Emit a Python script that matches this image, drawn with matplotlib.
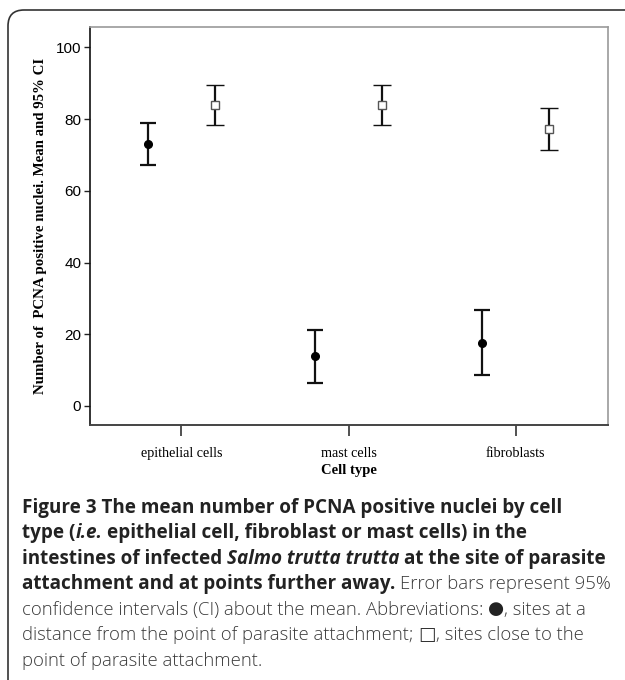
import matplotlib
matplotlib.use("Agg")
import matplotlib.pyplot as plt
from matplotlib.patches import FancyBboxPatch
from matplotlib.transforms import IdentityTransform
import numpy as np

# ---- data ----
categories = ["epithelial cells", "mast cells", "fibroblasts"]
far_mean = [73.2, 13.9, 17.5]
far_low = [67.3, 6.5, 8.6]
far_high = [78.9, 21.3, 26.7]
close_mean = [84.0, 84.0, 77.3]
close_low = [78.5, 78.5, 71.5]
close_high = [89.5, 89.5, 83.1]
yticks = [0, 20, 40, 60, 80, 100]

W, H = 625, 680
fig = plt.figure(figsize=(W / 100, H / 100), dpi=100)
fig.patch.set_facecolor("white")

# outer rounded frame (only top & left visible)
box = FancyBboxPatch((8 / 100, -1.0), 10.0, (H - 10) / 100 + 1.0,
                     boxstyle="round,pad=0,rounding_size=0.16",
                     transform=fig.dpi_scale_trans, fill=False,
                     edgecolor="#333333", linewidth=1.2, clip_on=False)
fig.patches.append(box)

ax = fig.add_axes([89.5 / W, 1 - 425 / H, (607.5 - 89.5) / W, (425 - 27) / H])
x = np.arange(len(categories))
off = 0.2

fm = np.array(far_mean); cm = np.array(close_mean)
ax.errorbar(x - off, fm, yerr=[fm - np.array(far_low), np.array(far_high) - fm],
            fmt="o", color="black", ms=5.5, mfc="black", mec="black",
            ecolor="#111111", elinewidth=1.6, capsize=5.5, capthick=1.6)
ax.errorbar(x + off, cm, yerr=[cm - np.array(close_low), np.array(close_high) - cm],
            fmt="s", color="#333333", ms=6, mfc="white", mec="#555555", mew=1.0,
            ecolor="#111111", elinewidth=1.6, capsize=6.5, capthick=1.6)

ax.set_xlim(-0.55, 2.55)
ax.set_ylim(-5.3, 105.7)
ax.set_yticks(yticks)
ax.set_yticklabels([str(v) for v in yticks],
                   family=["Liberation Sans Narrow", "Liberation Sans"], fontsize=11)
ax.set_xticks(x)
ax.set_xticklabels(categories, family="Liberation Serif", fontsize=10.2)
ax.tick_params(axis="y", direction="out", length=4, width=1, color="#222222", pad=2)
ax.tick_params(axis="x", direction="out", length=8, width=1.2, color="#333333", pad=8)
for s in ["top", "right"]:
    ax.spines[s].set_color("#9a9a9a")
    ax.spines[s].set_linewidth(1.2)
ax.spines["left"].set_color("#111111")
ax.spines["bottom"].set_color("#444444")
ax.spines["left"].set_linewidth(1.2)
ax.spines["bottom"].set_linewidth(1.4)

ax.set_ylabel("Number of  PCNA positive nuclei. Mean and 95% CI",
              family="Liberation Serif", fontweight="bold", fontsize=10.7, labelpad=6)
ax.set_xlabel("Cell type", family="Liberation Serif", fontweight="bold",
              fontsize=10.5, labelpad=3)

# ---- caption ----
fam = ["Open Sans", "DejaVu Sans"]
symfam = ["DejaVu Sans"]
B, R, S = "bold", "light", "sym"
FSB, FSR = 13.6, 13.3
DK, LT = "#222222", "#3a3a3a"
lines = [
    [("Figure 3 The mean number of PCNA positive nuclei by cell", B, "normal", DK)],
    [("type (", B, "normal", DK), ("i.e.", B, "italic", DK),
     (" epithelial cell, fibroblast or mast cells) in the", B, "normal", DK)],
    [("intestines of infected ", B, "normal", DK),
     ("Salmo trutta trutta", B, "italic", DK),
     (" at the site of parasite", B, "normal", DK)],
    [("attachment and at points further away.", B, "normal", DK),
     (" Error bars represent 95%", R, "normal", LT)],
    [("confidence intervals (CI) about the mean. Abbreviations: ", R, "normal", LT),
     ("\u25cf", S, "normal", "#222222"),
     (", sites at a", R, "normal", LT)],
    [("distance from the point of parasite attachment; ", R, "normal", LT),
     ("\u25a1", S, "normal", "#333333"),
     (", sites close to the", R, "normal", LT)],
    [("point of parasite attachment.", R, "normal", LT)],
]
renderer = fig.canvas.get_renderer()


def props(weight):
    if weight == B:
        return dict(fontsize=FSB, fontweight="bold", family=fam)
    if weight == S:
        return dict(fontsize=FSR, fontweight="normal", family=symfam)
    return dict(fontsize=FSR, fontweight="light", family=fam)


def width_of(s, weight, style):
    t = fig.text(0, 0, s, fontstyle=style, transform=IdentityTransform(), **props(weight))
    w = t.get_window_extent(renderer).width
    t.remove()
    return w


x0 = 22
y_base = 512.5
spacing = 25.6
for i, runs in enumerate(lines):
    yb = H - (y_base + i * spacing)
    xp = x0
    for text, weight, style, color in runs:
        sw = width_of("x x", weight, style) - width_of("xx", weight, style)
        lead = len(text) - len(text.lstrip(" "))
        trail = len(text) - len(text.rstrip(" "))
        core = text.strip(" ")
        xp += lead * sw
        dy = 0.5 if weight == S else 0
        t = fig.text(xp, yb + dy, core, fontstyle=style, color=color, va="baseline",
                     ha="left", transform=IdentityTransform(), **props(weight))
        xp += t.get_window_extent(renderer).width + trail * sw

fig.savefig("out.png", dpi=100, facecolor="white")
